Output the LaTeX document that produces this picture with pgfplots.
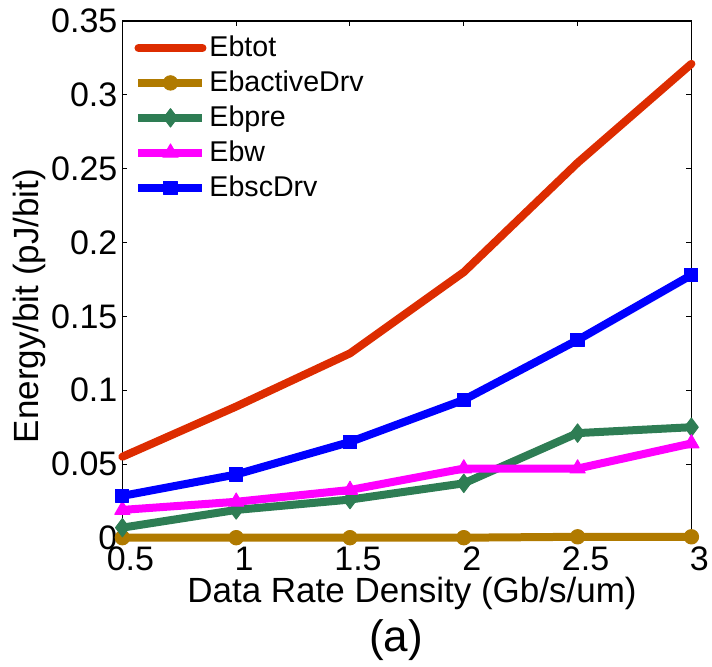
\documentclass[border=0pt]{standalone}
\usepackage{pgfplots}
\pgfplotsset{compat=1.18}
\usepackage{fontspec}
\setmainfont{Liberation Sans}
\definecolor{cRed}{RGB}{221,44,0}
\definecolor{cOlive}{RGB}{176,122,0}
\definecolor{cGreen}{RGB}{46,125,84}
\definecolor{cMag}{RGB}{255,0,255}
\definecolor{cBlue}{RGB}{0,0,255}
\begin{document}
\begin{tikzpicture}[x=1pt,y=1pt]
\path[use as bounding box] (0,0) rectangle (356,333.5);
\begin{axis}[
  at={(61.2pt,64.5pt)}, anchor=south west,
  scale only axis, width=284.5pt, height=258.5pt,
  xmin=0.5, xmax=3, ymin=0, ymax=0.35,
  xtick={0.5,1,1.5,2,2.5,3},
  xticklabels={0.5,1,1.5,2,2.5,3},
  ytick={0,0.05,0.1,0.15,0.2,0.25,0.3,0.35},
  yticklabels={0,0.05,0.1,0.15,0.2,0.25,0.3,0.35},
  tick align=inside, major tick length=2.5pt,
  tick style={black, line width=0.5pt},
  axis line style={black, line width=0.6pt},
  ticklabel style={font=\fontsize{17}{18}\selectfont},
  x tick label style={yshift=-1pt, xshift=4pt},
  y tick label style={xshift=1pt},
  /pgf/number format/assume math mode=true,
  clip=false,
  legend style={at={(0.01,0.985)}, anchor=north west, draw=none, fill=none,
    font=\fontsize{14.3}{16}\selectfont, row sep=2.6pt,
    nodes={inner sep=1.5pt}},
  legend cell align=left,
  legend image code/.code={
    \draw[mark repeat=2,mark phase=2] plot coordinates {(0pt,0pt) (16pt,0pt) (32pt,0pt)};
  },
]
\addplot[cRed, line width=4pt, line join=round, line cap=round] coordinates {
(0.5,0.055) (1,0.089) (1.5,0.125) (2,0.180) (2.5,0.254) (3,0.321)};
\addlegendentry{Ebtot}
\addplot[cOlive, line width=4pt, line join=round, mark=*, mark size=3.6pt, mark options={solid, fill=cOlive, line width=0.5pt}] coordinates {
(0.5,0.0002) (1,0.0002) (1.5,0.0002) (2,0.0002) (2.5,0.0008) (3,0.0008)};
\addlegendentry{EbactiveDrv}
\addplot[cGreen, line width=4pt, line join=round, mark=diamond*, mark size=4.6pt, mark options={solid, fill=cGreen, line width=0.5pt}] coordinates {
(0.5,0.007) (1,0.019) (1.5,0.026) (2,0.037) (2.5,0.071) (3,0.075)};
\addlegendentry{Ebpre}
\addplot[cMag, line width=4pt, line join=round, mark=triangle*, mark size=4.4pt, mark options={solid, fill=cMag, line width=0.5pt}] coordinates {
(0.5,0.019) (1,0.0245) (1.5,0.0325) (2,0.047) (2.5,0.047) (3,0.064)};
\addlegendentry{Ebw}
\addplot[cBlue, line width=4pt, line join=round, mark=square*, mark size=3.3pt, mark options={solid, fill=cBlue, line width=0.5pt, rounded corners=0.6pt}] coordinates {
(0.5,0.0285) (1,0.043) (1.5,0.065) (2,0.0935) (2.5,0.134) (3,0.178)};
\addlegendentry{EbscDrv}
\end{axis}
\node[rotate=90, font=\fontsize{17.5}{19}\selectfont] at (14.5,180.5) {Energy/bit (pJ/bit)};
\node[font=\fontsize{17.5}{19}\selectfont, anchor=base] at (206,333.5-301.5) {Data Rate Density (Gb/s/um)};
\node[font=\fontsize{22}{24}\selectfont] at (198,333.5-320) {(a)};
\end{tikzpicture}
\end{document}
